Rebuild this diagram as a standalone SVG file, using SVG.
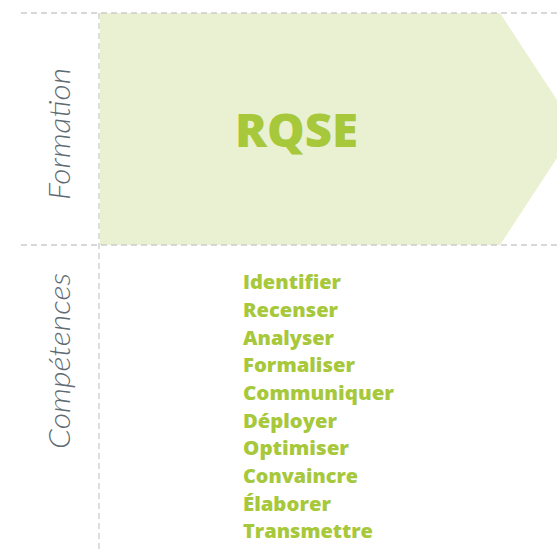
<svg xmlns="http://www.w3.org/2000/svg" width="557" height="549" viewBox="0 0 557 549">
<style>
.grid{stroke:#cbcbcb;stroke-width:1.3;stroke-dasharray:6 4;fill:none}
.lab{font-family:Lato,"Open Sans",sans-serif;font-style:italic;font-weight:300;fill:#5f6b73;font-size:30px}
.skill{font-family:"Open Sans",Lato,sans-serif;font-weight:800;fill:#a6c83a;font-size:20px}
.title{font-family:"Open Sans",Lato,sans-serif;font-weight:800;fill:#a6c83a;font-size:46px}
</style>
<rect width="557" height="549" fill="#ffffff"/>
<g id="band">
<polygon points="100,13 500,13 576,129 500,245 100,245" fill="#eaf1d2"/>
<text class="title" x="235" y="147" textLength="123" lengthAdjust="spacingAndGlyphs">RQSE</text>
</g>
<g id="connectors">
<line class="grid" x1="21" y1="13" x2="557" y2="13"/>
<line class="grid" x1="21" y1="245" x2="557" y2="245"/>
<line class="grid" x1="99" y1="13" x2="99" y2="549"/>
</g>
<g id="row-labels">
<text class="lab" transform="translate(70,200) rotate(-90)" textLength="132" lengthAdjust="spacingAndGlyphs">Formation</text>
<text class="lab" transform="translate(70,449) rotate(-90)" textLength="176" lengthAdjust="spacingAndGlyphs">Compétences</text>
</g>
<g id="skills">
<text class="skill" x="243" y="289" textLength="98" lengthAdjust="spacingAndGlyphs">Identifier</text>
<text class="skill" x="243" y="317" textLength="95" lengthAdjust="spacingAndGlyphs">Recenser</text>
<text class="skill" x="243" y="345" textLength="91" lengthAdjust="spacingAndGlyphs">Analyser</text>
<text class="skill" x="243" y="372" textLength="112" lengthAdjust="spacingAndGlyphs">Formaliser</text>
<text class="skill" x="243" y="400" textLength="151" lengthAdjust="spacingAndGlyphs">Communiquer</text>
<text class="skill" x="243" y="428" textLength="94" lengthAdjust="spacingAndGlyphs">Déployer</text>
<text class="skill" x="243" y="455" textLength="106" lengthAdjust="spacingAndGlyphs">Optimiser</text>
<text class="skill" x="243" y="483" textLength="115" lengthAdjust="spacingAndGlyphs">Convaincre</text>
<text class="skill" x="243" y="511" textLength="88" lengthAdjust="spacingAndGlyphs">Élaborer</text>
<text class="skill" x="243" y="538" textLength="130" lengthAdjust="spacingAndGlyphs">Transmettre</text>
</g>
</svg>
